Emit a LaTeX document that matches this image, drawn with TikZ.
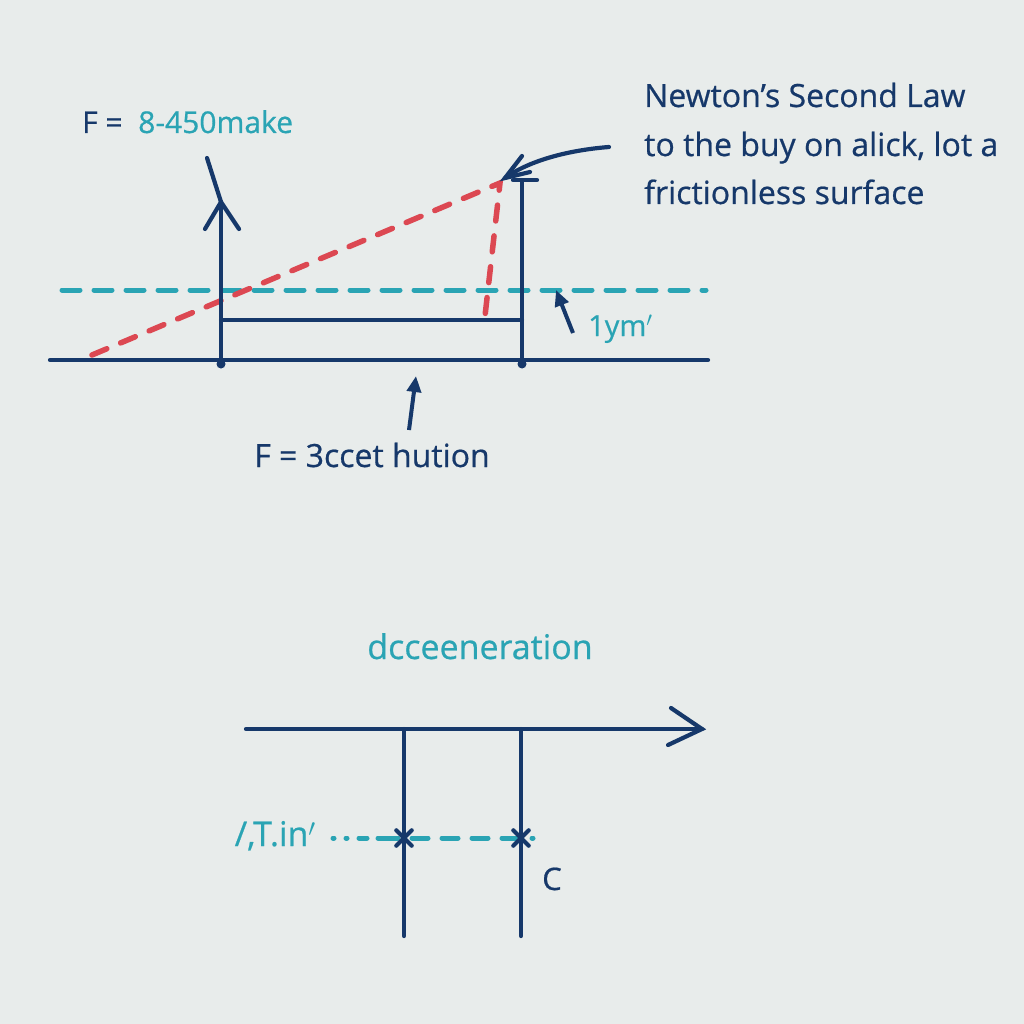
\documentclass[tikz,border=0pt]{standalone}
\usepackage{fontspec}
\setmainfont[FakeBold=0.6]{Open Sans}
\usetikzlibrary{arrows.meta}
\definecolor{bg}{HTML}{E8ECEB}
\definecolor{navy}{HTML}{16386A}
\definecolor{teal}{HTML}{2AA4B4}
\definecolor{redd}{HTML}{DC4852}
\tikzset{
  ln/.style={draw=navy, line width=4.2pt, line cap=round},
  tdash/.style={draw=teal, line width=5pt, line cap=round, dash pattern=on 18pt off 14pt},
  rdash/.style={draw=redd, line width=5.5pt, line cap=round, dash pattern=on 16pt off 15pt},
  txt/.style={inner sep=0pt, font=\fontsize{31}{36}\selectfont},
  dot/.style={circle, fill=navy, inner sep=0pt, minimum size=9pt},
}
\begin{document}
\begin{tikzpicture}[x=1pt, y=-1pt]
\fill[bg] (0,0) rectangle (1024,1024);
\useasboundingbox (0,0) rectangle (1024,1024);

% top diagram coordinates
\coordinate (g1) at (50,360);
\coordinate (g2) at (708,360);
\coordinate (lb) at (221,360);
\coordinate (lt) at (221,202);
\coordinate (lx) at (207,158);
\coordinate (la1) at (205,229);
\coordinate (la2) at (239,229);
\coordinate (rb) at (522,360);
\coordinate (rt) at (522,180);
\coordinate (rbar1) at (513,180);
\coordinate (rbar2) at (537,180);
\coordinate (mr) at (522,320);
\coordinate (ml) at (221,320);
\coordinate (t1) at (62,290);
\coordinate (t2) at (706,290);
\coordinate (r1) at (92,355);
\coordinate (r2) at (500,183);
\coordinate (r3) at (485,316);
\coordinate (cs) at (609,147);
\coordinate (ce) at (505,178);

% teal dashed line
\draw[tdash] (t1) -- (t2);
% red dashed
\draw[rdash] (r1) -- (r2) -- (r3);
% ground
\draw[ln] (g1) -- (g2);
\node[dot] (d1) at (221,364) {};
\node[dot] (d2) at (522,364) {};
% left vertical with arrow
\draw[ln] (lb) -- (lt);
\draw[ln] (la1) -- (lt) -- (la2);
\draw[ln] (lt) -- (lx);
% right vertical
\draw[ln] (rb) -- (rt);
\draw[ln] (rbar1) -- (rbar2);
% middle bar
\draw[ln] (ml) -- (mr);
% curved arrow
\draw[ln] (cs) .. controls (570,150) and (530,160) .. (ce);
\draw[ln] (522,156) -- (ce) -- (530,172);

% small arrow near label
\coordinate (sa1) at (573,333);
\coordinate (sa2) at (556,290);
\draw[navy, line width=4pt, -{Triangle[length=16pt,width=14pt]}] (sa1) -- (sa2);
\node[txt, anchor=base west, text=teal, font=\fontsize{29}{34}\selectfont] (lym) at (588,336) {1ym$'$};

% arrow below ground
\coordinate (ba1) at (409,430);
\coordinate (ba2) at (416,376);
\draw[navy, line width=4pt, -{Triangle[length=16pt,width=14pt]}] (ba1) -- (ba2);
\node[txt, anchor=base, text=navy, font=\fontsize{32}{36}\selectfont] (fb) at (372,467) {F = 3ccet hution};

% top-left label
\node[txt, anchor=base west, text=navy, font=\fontsize{30}{36}\selectfont] (fa) at (82,133) {F =\ \ \textcolor{teal}{8-450make}};

% title
\node[txt, anchor=base west, text=navy, font=\fontsize{32}{36}\selectfont] (title1) at (644,107) {Newton’s Second Law};
\node[txt, anchor=base west, text=navy, font=\fontsize{32}{36}\selectfont] (title2) at (644,156) {to the buy on alick, lot a};
\node[txt, anchor=base west, text=navy, font=\fontsize{32}{36}\selectfont] (title3) at (644,204) {frictionless surface};

% bottom diagram
\node[txt, anchor=base, text=teal, font=\fontsize{34}{40}\selectfont] (dec) at (480,659) {dcceeneration};
\coordinate (h1) at (246,729);
\coordinate (h2) at (702,729);
\coordinate (v1t) at (404,729);
\coordinate (v1b) at (404,936);
\coordinate (v2t) at (521,729);
\coordinate (v2b) at (521,936);
\draw[ln] (h1) -- (h2);
\draw[ln] (671,708) -- (h2) -- (668,745);
\draw[ln] (v1t) -- (v1b);
\draw[ln] (v2t) -- (v2b);
\coordinate (bt1) at (333,838);
\coordinate (bt2) at (533,838);
\draw[teal, line width=5pt, line cap=round, dash pattern=on 1pt off 12pt on 1pt off 12pt on 8pt off 11pt on 20pt off 10pt] (bt1) -- (402,838);
\draw[teal, line width=5pt, line cap=round, dash pattern=on 16pt off 14pt] (412,838) -- (bt2);
\foreach \xx/\nm in {404/xa, 521/xb}{
  \node[inner sep=0pt, minimum size=15pt] (\nm) at (\xx,838) {};
  \draw[navy, line width=4.2pt, line cap=round] (\nm.north west) -- (\nm.south east) (\nm.north east) -- (\nm.south west);
}
\node[txt, anchor=base east, text=teal, font=\fontsize{34}{40}\selectfont] (tin) at (316,846) {/,T.in$'$};
\node[txt, anchor=base west, text=navy, font=\fontsize{31}{36}\selectfont] (cc) at (542,890) {C};
\end{tikzpicture}
\end{document}
